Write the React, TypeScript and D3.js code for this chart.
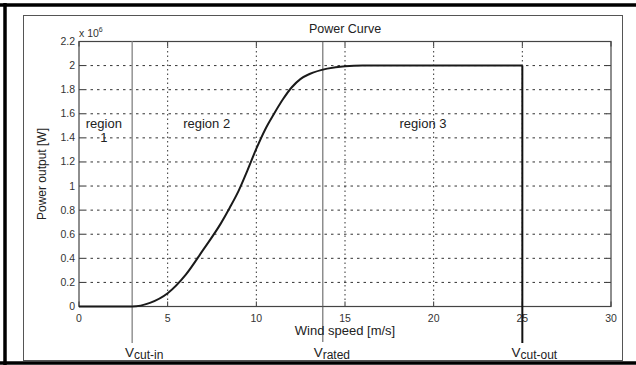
import React from 'react';
import * as d3 from 'd3';

// wind speed [m/s] and power output [x 10^6 W]
const windSpeed = [0, 1, 2, 3, 4, 5, 6, 7, 8, 8.5, 9, 9.5, 10, 10.5, 11, 11.5, 12, 12.5, 13, 14, 15, 16, 17, 18, 19, 20, 21, 22, 23, 24, 25];
const power = [0, 0, 0, 0, 0.03, 0.11, 0.26, 0.47, 0.69, 0.82, 0.96, 1.13, 1.31, 1.47, 1.6, 1.72, 1.82, 1.89, 1.93, 1.975, 1.995, 2, 2, 2, 2, 2, 2, 2, 2, 2, 2];

const xTicks = [0, 5, 10, 15, 20, 25, 30];
const yTicks = [0, 0.2, 0.4, 0.6, 0.8, 1, 1.2, 1.4, 1.6, 1.8, 2, 2.2];

// speed markers
const markerNames = ['cut-in', 'rated', 'cut-out'];
const markerSpeeds = [3, 13.75, 25];

const regionNames = ['region', 'region 2', 'region 3'];
const regionCenters = [1.4, 7.2, 19.4];

const W = 636;
const H = 365;
const font = 'Liberation Sans, Arial, Helvetica, sans-serif';

export default function App() {
  const left = 79, right = 611, top = 41.5, bottom = 306.5;

  const x = d3.scaleLinear().domain([0, 30]).range([left, right]);
  const y = d3.scaleLinear().domain([0, 2.2]).range([bottom, top]);

  const line = d3.line<number>()
    .x((d, i) => x(windSpeed[i]))
    .y(d => y(d))
    .curve(d3.curveMonotoneX);

  const pathD = line(power) || '';
  const tickLen = 5;
  const labelY = y(1.5) + 2.5;

  return (
    <svg width={W} height={H} style={{ position: 'absolute', left: 0, top: 0, background: '#fff' }} fontFamily={font}>
      {/* frame */}
      <rect x={23.5} y={15.5} width={599} height={345} fill="none" stroke="#555" strokeWidth={1} />
      <line x1={0} x2={W} y1={5} y2={5} stroke="#000" strokeWidth={3.5} />
      <line x1={5} x2={5} y1={3} y2={H} stroke="#000" strokeWidth={3.5} />
      <line x1={0} x2={W} y1={363} y2={363} stroke="#000" strokeWidth={3.5} />

      <text x={(left + right) / 2} y={33} fontSize={12.5} textAnchor="middle" fill="#222">Power Curve</text>

      {/* grid */}
      {yTicks.filter(t => t > 0 && t < 2.2).map(t => (
        <line key={'gy' + t} x1={left + tickLen} x2={right - 1} y1={y(t)} y2={y(t)}
          stroke="#333" strokeWidth={1} strokeDasharray="2.5,4" />
      ))}
      {xTicks.filter(t => t > 0 && t < 30).map(t => (
        <line key={'gx' + t} x1={x(t)} x2={x(t)} y1={top + tickLen} y2={bottom - tickLen}
          stroke="#333" strokeWidth={1} strokeDasharray="1.5,3" />
      ))}

      {/* ticks */}
      {xTicks.map(t => (
        <g key={'tx' + t}>
          <line x1={x(t)} x2={x(t)} y1={bottom} y2={bottom - tickLen} stroke="#333" />
          <line x1={x(t)} x2={x(t)} y1={top} y2={top + tickLen} stroke="#333" />
          <text x={x(t)} y={bottom + 15} fontSize={10.5} textAnchor="middle" fill="#333">{t}</text>
        </g>
      ))}
      {yTicks.map(t => (
        <g key={'ty' + t}>
          <line x1={left} x2={left + tickLen} y1={y(t)} y2={y(t)} stroke="#333" />
          <line x1={right} x2={right - tickLen} y1={y(t)} y2={y(t)} stroke="#333" />
          <text x={left - 4} y={y(t) + 3.5} fontSize={10.5} textAnchor="end" fill="#333">{d3.format('~g')(t)}</text>
        </g>
      ))}
      <text x={left} y={36.5} fontSize={10.5} fill="#333">x 10<tspan dy={-5} fontSize={7}>6</tspan></text>

      <rect x={left} y={top} width={right - left} height={bottom - top} fill="none" stroke="#444" strokeWidth={1.2} />

      {/* speed markers */}
      <line x1={x(markerSpeeds[0])} x2={x(markerSpeeds[0])} y1={top} y2={343} stroke="#9a9a9a" strokeWidth={1.6} />
      <line x1={x(markerSpeeds[1])} x2={x(markerSpeeds[1])} y1={top} y2={342} stroke="#555" strokeWidth={1} />
      <line x1={x(markerSpeeds[2])} x2={x(markerSpeeds[2])} y1={y(2)} y2={343} stroke="#111" strokeWidth={2} />
      {markerNames.map((n, i) => (
        <text key={n} x={x(markerSpeeds[i]) + (i === 1 ? 9 : 12)} y={357} fontSize={13.5} textAnchor="middle" fill="#222">
          V<tspan fontSize={12} dy={1.5}>{n}</tspan>
        </text>
      ))}

      {/* power curve */}
      <path d={pathD} fill="none" stroke="#1a1a1a" strokeWidth={2} strokeLinejoin="round" />

      {/* regions */}
      {regionNames.map((n, i) => (
        <text key={n} x={x(regionCenters[i])} y={labelY} fontSize={13} textAnchor="middle" fill="#222">{n}</text>
      ))}
      <text x={x(regionCenters[0])} y={labelY + 13.5} fontSize={13} textAnchor="middle" fill="#222">1</text>

      {/* axis titles */}
      <text x={(left + right) / 2} y={335} fontSize={13} textAnchor="middle" fill="#222">Wind speed [m/s]</text>
      <text transform={`translate(46,${(top + bottom) / 2}) rotate(-90)`} fontSize={12} textAnchor="middle" fill="#222">Power output [W]</text>
    </svg>
  );
}
